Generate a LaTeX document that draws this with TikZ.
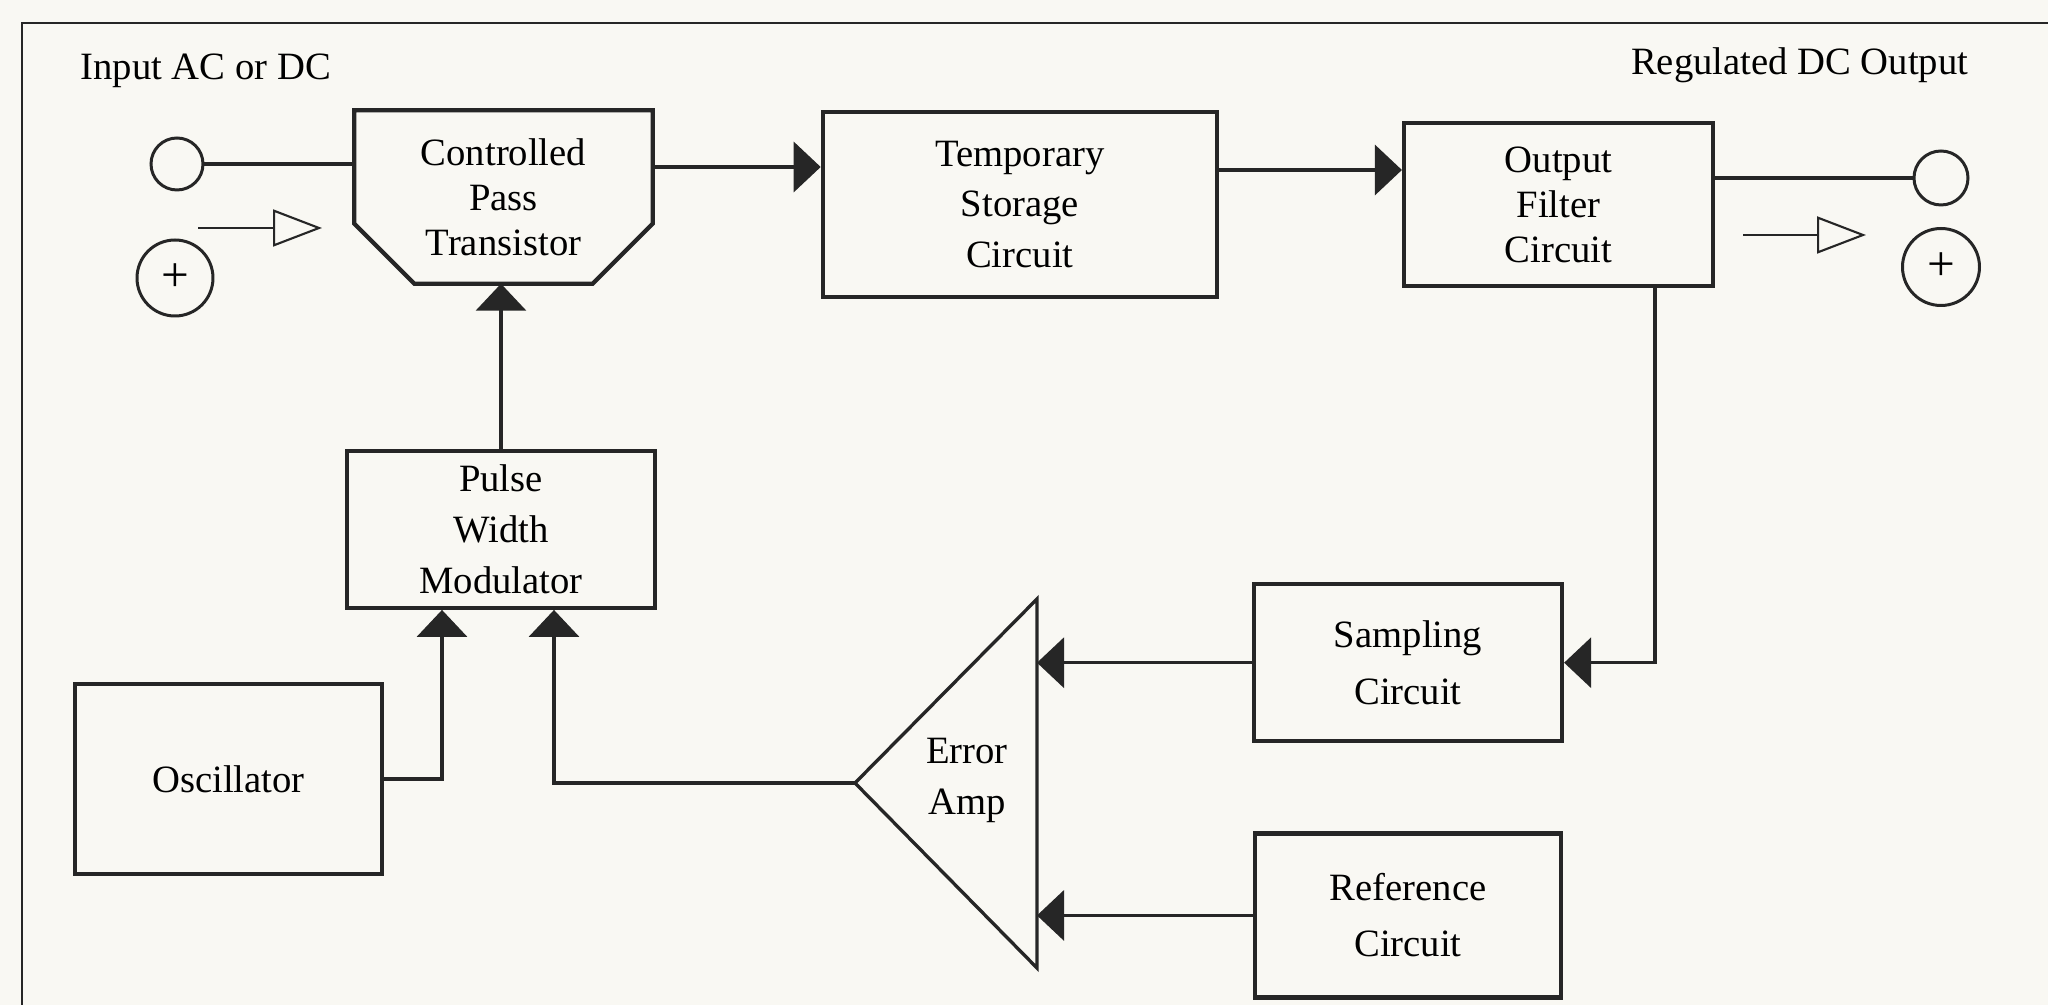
\documentclass[tikz,border=0pt]{standalone}
\usepackage{fontspec}
\setmainfont{Liberation Serif}
\usepackage{tikz}
\usetikzlibrary{positioning,arrows.meta,calc}
\definecolor{ink}{RGB}{38,38,38}
\definecolor{paper}{RGB}{249,248,243}

\begin{document}
\begin{tikzpicture}[>={Triangle[length=2.7mm,width=5mm]}, font=\fontsize{11}{14.5}\selectfont,
  box/.style={draw=ink, line width=1.2pt, align=center, inner sep=2pt},
  term/.style={draw=ink, circle, line width=0.85pt, inner sep=0pt, font=\fontsize{14}{14}\selectfont},
  wire/.style={draw=ink, line width=1pt},
  hint/.style={draw=ink, line width=0.6pt, -{Triangle[open,length=4.9mm,width=3.7mm]}}]
\fill[paper] (0,0) rectangle (20.48,-10.05);
\useasboundingbox (0,0) rectangle (20.48,-10.05);
\draw[ink, line width=0.6pt] (0.22,-10.05) -- (0.22,-0.23) -- (20.48,-0.23);
% top row
\node[align=center, font=\fontsize{11}{12.8}\selectfont, minimum width=29.7mm, minimum height=17.2mm] (cpt) at (5.035,-1.97) {Controlled\\Pass\\Transistor};
\draw[ink, line width=1.2pt] (cpt.north west) -- (cpt.north east) -- ([yshift=6mm]cpt.south east) -- ([xshift=-6mm]cpt.south east)
  -- ([xshift=6mm]cpt.south west) -- ([yshift=6mm]cpt.south west) -- cycle;
\node[box, right=16.8mm of cpt, yshift=-0.75mm, minimum width=39.4mm, minimum height=18.5mm] (temp) {Temporary\\Storage\\Circuit};
\node[box, right=18.3mm of temp, font=\fontsize{11}{12.8}\selectfont, minimum width=30.9mm, minimum height=16.3mm] (of) {Output\\Filter\\Circuit};
% terminals
\node[anchor=base west, inner sep=0pt] (inlbl) at (0.80,-0.80) {Input AC or DC};
\node[anchor=base east, inner sep=0pt] (outlbl) at (19.69,-0.75) {Regulated DC Output};
\node[term, minimum size=5.2mm] (in) at (1.77,-1.64) {};
\node[term, minimum size=7.6mm] (inplus) at (1.75,-2.78) {+};
\node[term, minimum size=5.4mm] (out) at (19.41,-1.78) {};
\node[term, minimum size=7.7mm] (outplus) at (19.41,-2.67) {+};
\coordinate (inh0) at (1.98,-2.28);
\coordinate (inh1) at (3.22,-2.28);
\coordinate (outh0) at (17.43,-2.35);
\coordinate (outh1) at (18.66,-2.35);
\draw[hint] (inh0) -- (inh1);
\draw[hint] (outh0) -- (outh1);
% control loop
\node[box, below=16.5mm of cpt, xshift=-0.25mm, minimum width=30.8mm, minimum height=15.7mm] (pwm) {Pulse\\Width\\Modulator};
\node[box, minimum width=30.7mm, minimum height=19mm] (osc) at (2.285,-7.79) {Oscillator};
\node[box, below=29.4mm of of, xshift=-15.05mm, font=\fontsize{11}{16}\selectfont, minimum width=30.8mm, minimum height=15.7mm] (samp) {Sampling\\Circuit};
\node[box, below=8.8mm of samp, font=\fontsize{11}{16}\selectfont, minimum width=30.6mm, minimum height=16.4mm] (ref) {Reference\\Circuit};
\coordinate (eatip) at (8.55,-7.83);
\coordinate (eatop) at (10.37,-5.99);
\coordinate (eabot) at (10.37,-9.68);
\draw[ink, line width=0.95pt] (eatip) -- (eatop) -- (eabot) -- cycle;
\node[align=center] (ea) at (9.67,-7.80) {Error\\Amp};
% connectors
\draw[wire] (in.east) -- (in.east -| cpt.west);
\draw[wire,->] ([yshift=3mm]cpt.east) -- ([yshift=3mm]cpt.east -| temp.west);
\draw[wire,->] ([yshift=3.45mm]temp.east) -- ([yshift=3.45mm]temp.east -| of.west);
\draw[wire] (of.east |- out.west) -- (out.west);
\draw[wire,->] ([xshift=9.65mm]of.south) |- (samp.east);
\draw[wire,->] (samp.west) -- (samp.west -| eatop);
\draw[wire,->] (ref.west) -- (ref.west -| eatop);
\draw[wire,->] (eatip) -| ([xshift=5.3mm]pwm.south);
\draw[wire,->] (osc.east) -| ([xshift=-5.9mm]pwm.south);
\draw[wire,->] (pwm.north) -- (pwm.north |- cpt.south);
\end{tikzpicture}
\end{document}
